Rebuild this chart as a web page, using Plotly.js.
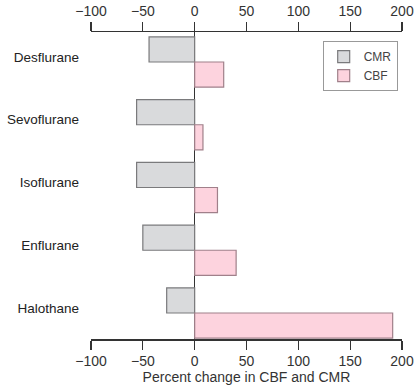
<!DOCTYPE html>
<html>
<head>
<meta charset="utf-8">
<script src="https://cdn.plot.ly/plotly-3.0.1.min.js"></script>
<style>html,body{margin:0;padding:0;background:#fff;}#chart{width:417px;height:389px;}</style>
</head>
<body>
<div id="chart"></div>
<script>
var categories = ["Desflurane", "Sevoflurane", "Isoflurane", "Enflurane", "Halothane"];
var cmrValues = [-44, -56, -56, -50, -27];
var cbfValues = [28, 8, 22, 40, 191];
var tickVals = [-100, -50, 0, 50, 100, 150, 200];
var tickText = ["\u2212100", "\u221250", "0", "50", "100", "150", "200"];

var font = "Liberation Sans, Arial, sans-serif";

var traces = [
  {
    type: "bar", orientation: "h", name: "CMR",
    y: categories, x: cmrValues,
    marker: {color: "#d9dadc", line: {color: "#7a7a7c", width: 1.2}},
    hoverinfo: "skip"
  },
  {
    type: "bar", orientation: "h", name: "CBF",
    y: categories, x: cbfValues,
    marker: {color: "#fdd3de", line: {color: "#a0808a", width: 1.2}},
    hoverinfo: "skip"
  },
  {
    type: "scatter", mode: "none", x: [tickVals[0], tickVals[tickVals.length - 1]],
    y: [categories[0], categories[0]], xaxis: "x2", showlegend: false, hoverinfo: "skip"
  }
];

var xCommon = {
  range: [-100, 200],
  tickvals: tickVals, ticktext: tickText,
  ticks: "outside", ticklen: 9, tickwidth: 1.3, tickcolor: "#333",
  showline: true, linecolor: "#333", linewidth: 1.5,
  showgrid: false, zeroline: false,
  tickfont: {family: font, size: 14, color: "#333"}
};

var layout = {
  width: 417, height: 389,
  margin: {l: 91, r: 15, t: 32, b: 50},
  paper_bgcolor: "#fff", plot_bgcolor: "#fff",
  barmode: "group", bargap: 0.2, bargroupgap: 0,
  showlegend: true,
  legend: {
    x: 0.745, y: 0.97, xanchor: "left", yanchor: "top",
    bgcolor: "#fff", bordercolor: "#999", borderwidth: 1,
    font: {family: font, size: 12, color: "#444"},
    traceorder: "normal", itemwidth: 30
  },
  xaxis: Object.assign({}, xCommon, {
    side: "bottom",
    zeroline: true, zerolinecolor: "#333", zerolinewidth: 1.6,
    title: {text: "Percent change in CBF and CMR", font: {family: font, size: 14, color: "#333"}, standoff: 3}
  }),
  xaxis2: Object.assign({}, xCommon, {side: "top", overlaying: "x", matches: "x"}),
  yaxis: {
    type: "category",
    range: [4.414, -0.478],
    showline: false, showgrid: false, zeroline: false, ticks: "",
    ticklabelstandoff: 11,
    ticklabelshift: 5,
    tickfont: {family: font, size: 13.5, color: "#222"}
  }
};

Plotly.newPlot("chart", traces, layout, {displayModeBar: false, staticPlot: true});
</script>
</body>
</html>
